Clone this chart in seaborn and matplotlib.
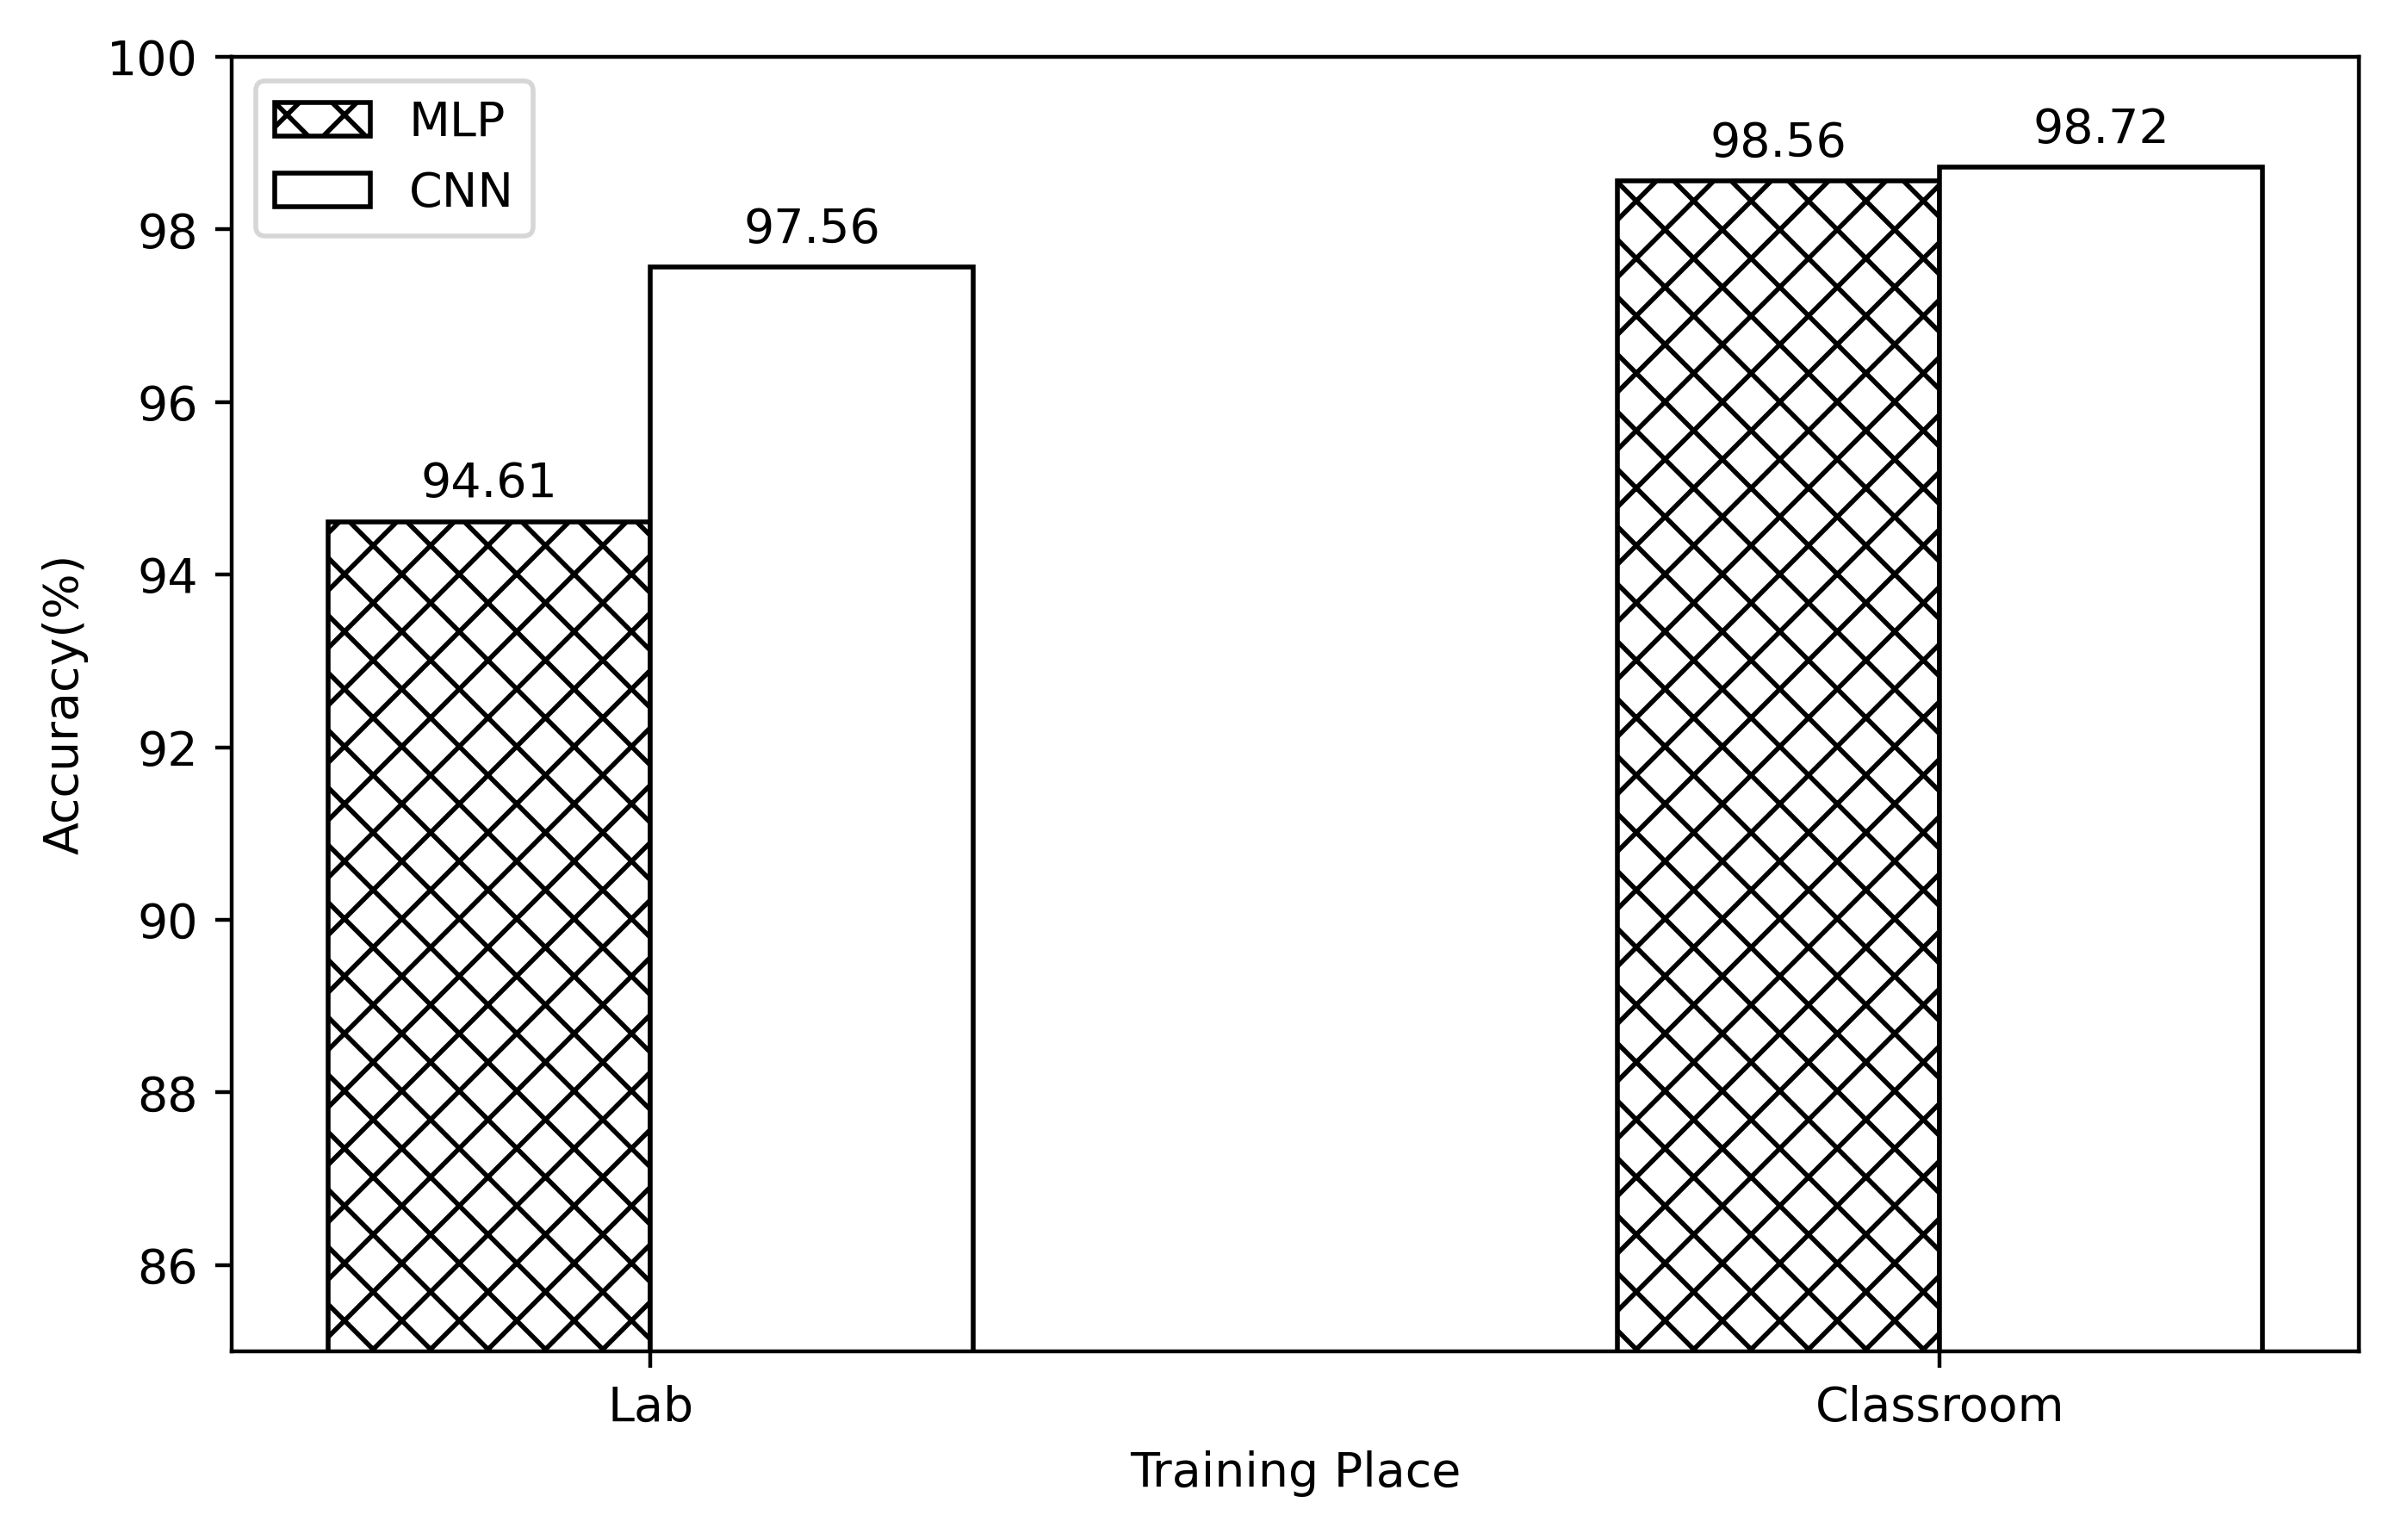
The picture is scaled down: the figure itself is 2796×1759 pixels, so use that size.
import matplotlib
matplotlib.use("Agg")
import matplotlib.pyplot as plt
import seaborn as sns
import pandas as pd

places = ["Lab", "Classroom"]
models = ["MLP", "CNN"]
mlp_acc = [94.61, 98.56]
cnn_acc = [97.56, 98.72]

df = pd.DataFrame({
    "place": places * 2,
    "model": [models[0]] * len(places) + [models[1]] * len(places),
    "acc": mlp_acc + cnn_acc,
})

plt.rcParams["font.family"] = ["DejaVu Sans"]
plt.rcParams["font.size"] = 10
plt.rcParams["hatch.linewidth"] = 1.0

fig = plt.figure(figsize=(6.99, 4.3975), dpi=400)
ax = fig.add_axes([0.0962, 0.108, 0.8834, 0.8545])

sns.barplot(data=df, x="place", y="acc", hue="model", order=places,
            hue_order=models, palette=["white", "white"], edgecolor="black",
            linewidth=1.0, width=0.5, saturation=1, errorbar=None,
            legend=False, ax=ax)

hatches = ["xx", ""]
for cont, h in zip(ax.containers, hatches):
    for p in cont:
        p.set_hatch(h)
        p.set_edgecolor("black")
        p.set_facecolor("white")
        p.set_linewidth(1.0)
    ax.bar_label(cont, fmt="%.2f", padding=3, fontsize=10)

ax.set_ylim(85, 100)
ax.set_xlim(-0.325, 1.325)
ax.set_yticks([86, 88, 90, 92, 94, 96, 98, 100])
ax.set_xlabel("Training Place", fontsize=10)
ax.set_ylabel("Accuracy(%)", fontsize=10)
ax.tick_params(labelsize=10)
for s in ax.spines.values():
    s.set_visible(True)
    s.set_linewidth(0.8)
    s.set_color("black")
ax.grid(False)

handles = [ax.containers[0].patches[0], ax.containers[1].patches[0]]
ax.legend(handles, models, loc="upper left", fontsize=10)

fig.savefig("out.png", dpi=400)
